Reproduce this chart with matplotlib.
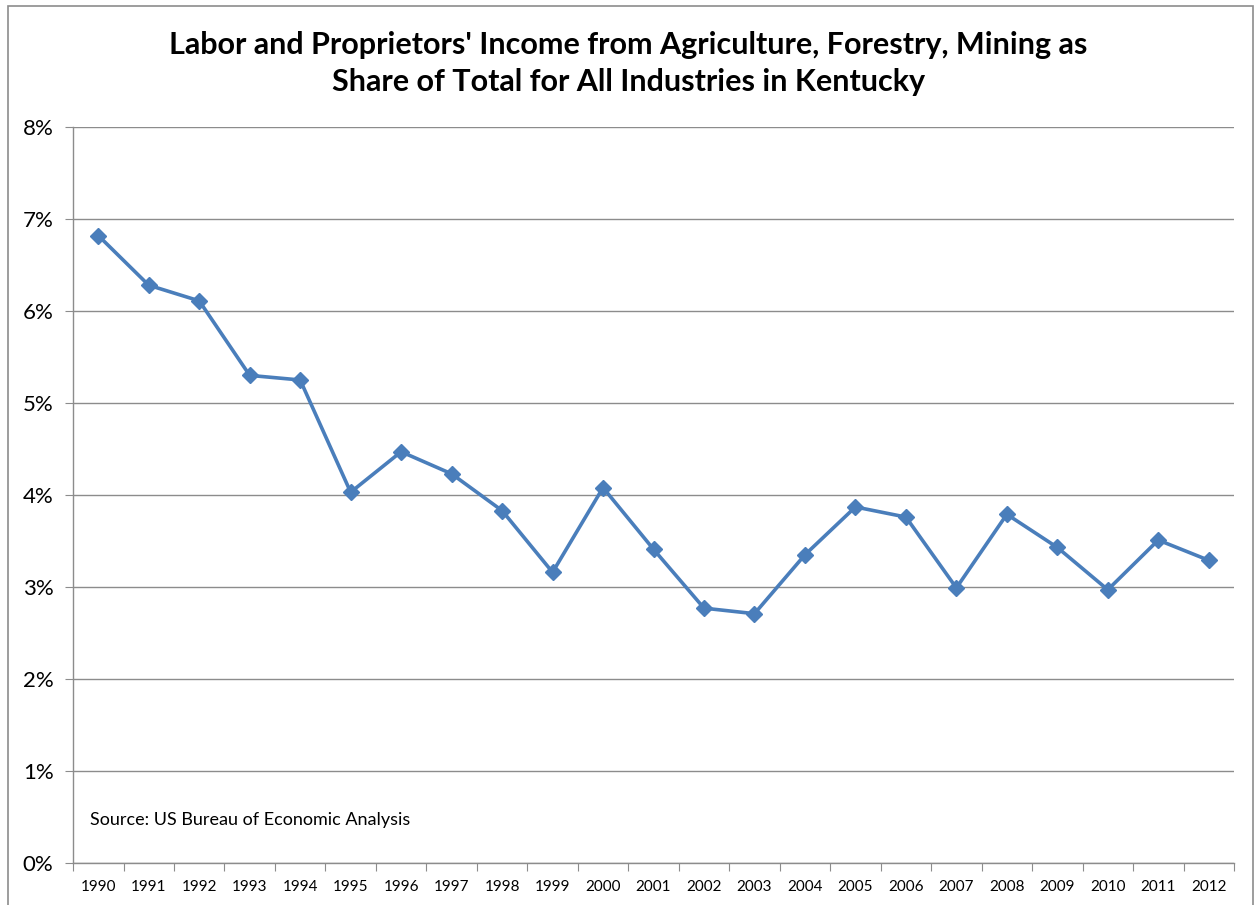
import matplotlib.pyplot as plt
from matplotlib.patches import Rectangle
from matplotlib.ticker import FuncFormatter, FixedLocator

# dados
years = ['1990', '1991', '1992', '1993', '1994', '1995', '1996', '1997', '1998', '1999', '2000',
         '2001', '2002', '2003', '2004', '2005', '2006', '2007', '2008', '2009', '2010', '2011', '2012']
share = [6.82, 6.28, 6.11, 5.30, 5.25, 4.03, 4.47, 4.23, 3.83, 3.16, 4.08,
         3.41, 2.77, 2.71, 3.35, 3.87, 3.76, 2.99, 3.79, 3.43, 2.97, 3.51, 3.29]
title = "Labor and Proprietors' Income from Agriculture, Forestry, Mining as\nShare of Total for All Industries in Kentucky"
source = "Source: US Bureau of Economic Analysis"

plt.rcParams['font.family'] = ['Lato', 'DejaVu Sans']

fig = plt.figure(figsize=(12.57, 9.05), dpi=100)
ax = fig.add_axes([0.0581, 0.0464, 0.9236, 0.8133])

# moldura do grafico
fig.patches.append(Rectangle((8 / 1257, -0.01), 1245 / 1257, 1 - 6 / 905 + 0.01,
                             transform=fig.transFigure, fill=False,
                             edgecolor='#8c8c8c', linewidth=1.2))

x = list(range(len(years)))
ax.plot(x, share, color='#4A7EBB', linewidth=2.6, marker='D', markersize=8,
        markerfacecolor='#4A7EBB', markeredgecolor='#4A7EBB', zorder=3)

ax.set_xlim(-0.5, len(years) - 0.5)
ax.set_ylim(0, 8)
ax.set_yticks(range(0, 9))
ax.yaxis.set_major_formatter(FuncFormatter(lambda v, p: f'{int(v)}%'))
ax.grid(axis='y', color='#8c8c8c', linewidth=1)
ax.set_axisbelow(True)

ax.xaxis.set_major_locator(FixedLocator([i - 0.5 for i in range(len(years) + 1)]))
ax.xaxis.set_minor_locator(FixedLocator(x))
ax.set_xticklabels([])
ax.set_xticklabels(years, minor=True)
ax.tick_params(axis='x', which='major', length=6, color='#8c8c8c', direction='out')
ax.tick_params(axis='x', which='minor', length=0, labelsize=11, pad=12)
ax.tick_params(axis='y', length=6, color='#8c8c8c', labelsize=16, pad=8)

for s in ['top', 'right']:
    ax.spines[s].set_visible(False)
for s in ['left', 'bottom']:
    ax.spines[s].set_color('#8c8c8c')
    ax.spines[s].set_linewidth(1)

fig.text(0.5, 0.966, title, ha='center', va='top', fontsize=22, fontweight='bold',
         linespacing=1.4)
ax.text(0.0146, 0.058, source, transform=ax.transAxes, fontsize=13, va='center')

fig.savefig('out.png', dpi=100)
